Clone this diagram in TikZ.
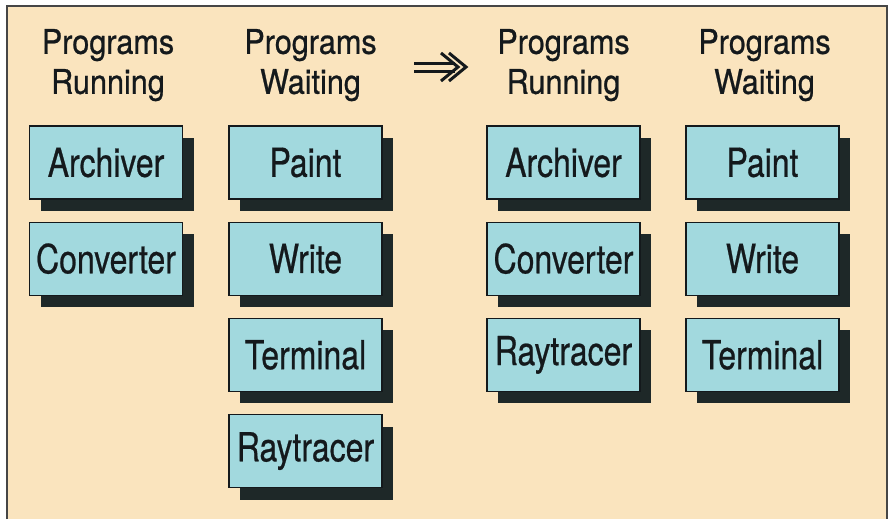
\documentclass[tikz,border=0pt]{standalone}
\usepackage{fontspec}
\setmainfont{TeX Gyre Heros}[FakeBold=0.5]
\newfontfamily\narrowfont{TeX Gyre Heros}[FakeStretch=0.8,FakeBold=0.6]
\newfontfamily\headfont{TeX Gyre Heros}[FakeStretch=0.9,FakeBold=0.7]
\usetikzlibrary{positioning,shadows}
\definecolor{amiPeach}{RGB}{250,228,190}
\definecolor{amiCyan}{RGB}{162,217,222}
\definecolor{amiShadow}{RGB}{30,40,40}
\definecolor{amiInk}{RGB}{20,25,28}
\definecolor{amiFrame}{RGB}{70,70,70}

\begin{document}
\begin{tikzpicture}[x=1pt,y=-1pt]
  \tikzset{
    prog/.style={rectangle,draw=amiInk,line width=1.2pt,fill=amiCyan,minimum width=153pt,minimum height=73pt,inner sep=0pt,text=amiInk,font=\narrowfont\fontsize{40}{40}\selectfont,general shadow={fill=amiShadow,shadow xshift=11pt,shadow yshift=-12pt}},
    head/.style={align=center,inner sep=0pt,text=amiInk,font=\headfont\fontsize{34}{40}\selectfont},
    frame/.style={draw=amiFrame,line width=1.5pt},
    thick arrow/.style={draw=amiInk,line width=3pt}
  }
  \useasboundingbox (0,0) rectangle (890,519);
  \fill[white] (0,0) rectangle (890,519);
  \fill[amiPeach] (7,6) rectangle (887,519);
  \draw[frame] (7,519) -- (7,6) -- (887,6) -- (887,519);

  % before: running and waiting
  \node[prog] (ra1) at (106,162.5) {Archiver};
  \node[prog,below=22pt of ra1] (ra2) {Converter};
  \node[prog] (wa1) at (305.5,162.5) {Paint};
  \node[prog,below=22pt of wa1] (wa2) {Write};
  \node[prog,below=22pt of wa2] (wa3) {Terminal};
  \node[prog,below=22pt of wa3] (wa4) {Raytracer};

  % after: running and waiting
  \node[prog] (rb1) at (563.5,162.5) {Archiver};
  \node[prog,below=22pt of rb1] (rb2) {Converter};
  \node[prog,below=22pt of rb2] (rb3) {Raytracer};
  \node[prog] (wb1) at (762.5,162.5) {Paint};
  \node[prog,below=22pt of wb1] (wb2) {Write};
  \node[prog,below=22pt of wb2] (wb3) {Terminal};

  % column heads
  \node[head,above=24pt of ra1,xshift=2pt] (hra) {Programs\\Running};
  \node[head,above=24pt of wa1,xshift=5pt] (hwa) {Programs\\Waiting};
  \node[head,above=24pt of rb1] (hrb) {Programs\\Running};
  \node[head,above=24pt of wb1,xshift=2pt] (hwb) {Programs\\Waiting};

  % the arrow between before and after
  \coordinate (arr) at (440,67);
  \draw[thick arrow] (414,63) -- (455,63) (414,71) -- (455,71);
  \draw[thick arrow,line join=miter] (441,53) -- (458,67) -- (441,81);
  \draw[thick arrow,line join=miter] (449,53) -- (466,67) -- (449,81);
\end{tikzpicture}
\end{document}
